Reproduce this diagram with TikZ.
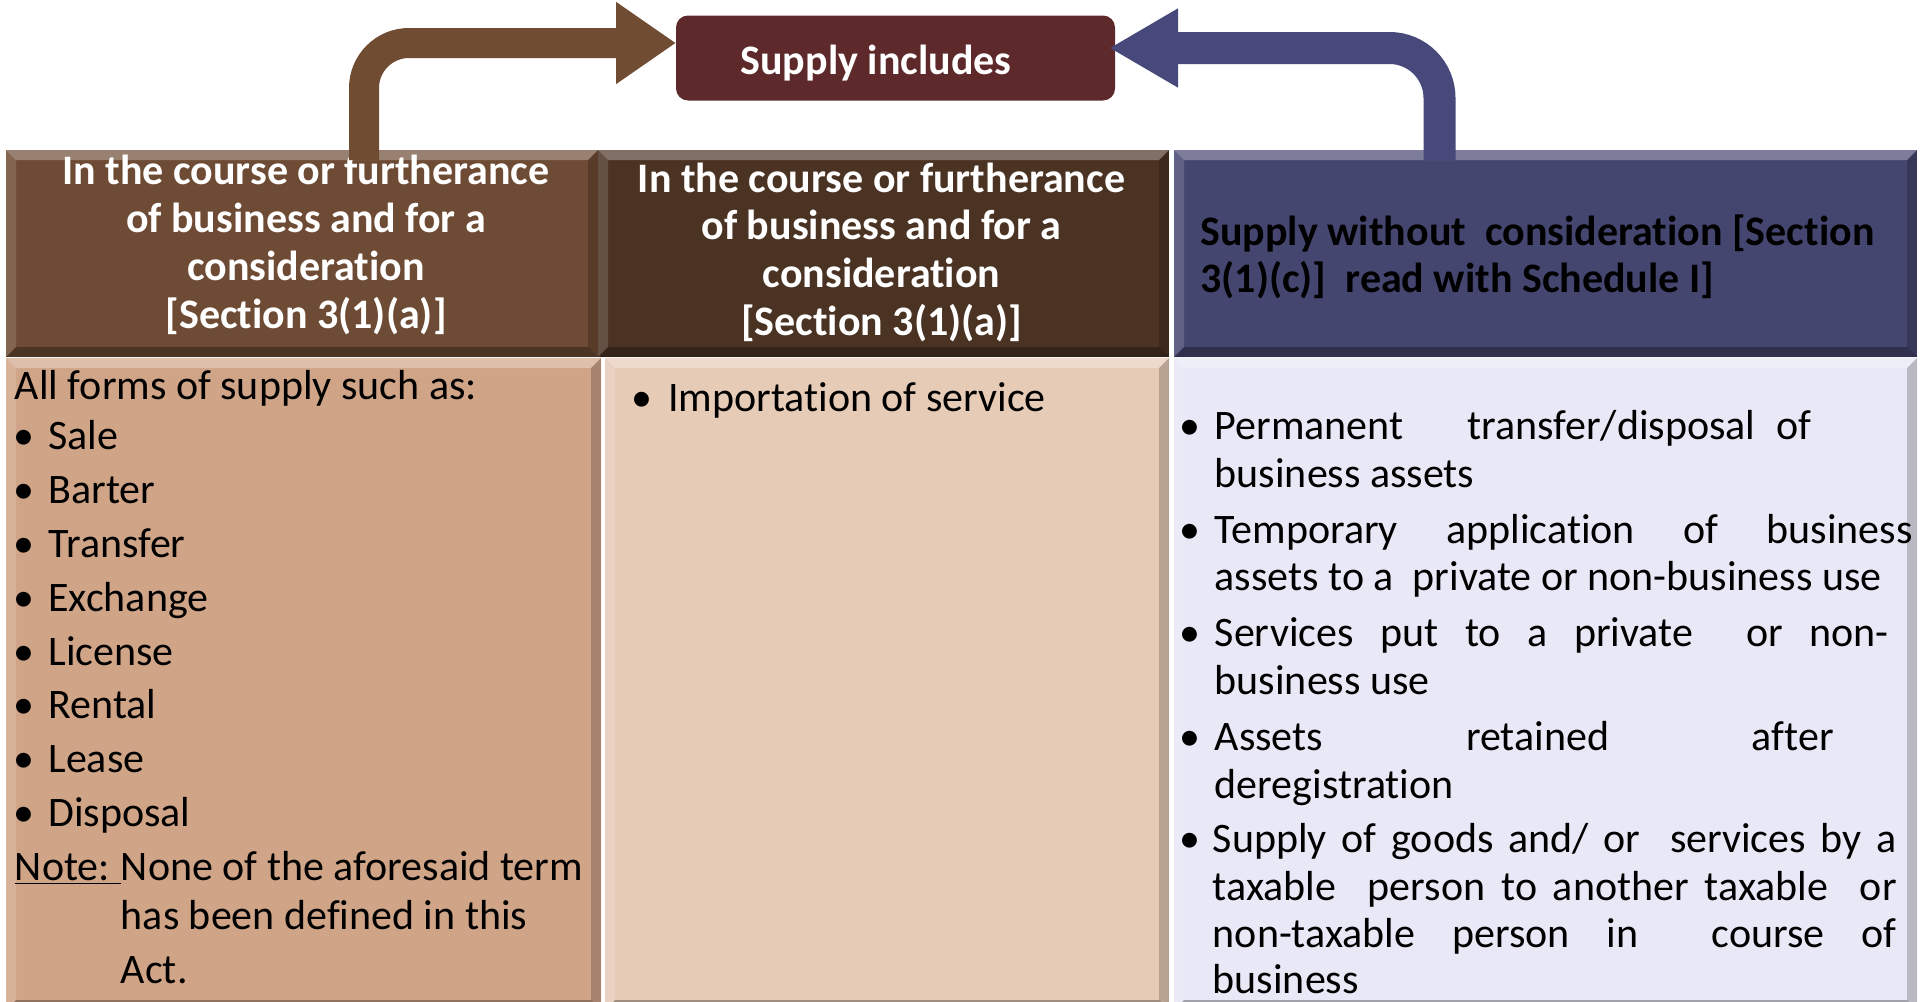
\documentclass[tikz,border=0pt]{standalone}
\usepackage{fontspec}
\setmainfont{Carlito}[Ligatures={NoCommon,NoContextual}]
\usetikzlibrary{arrows.meta,calc}

\newlength{\du}
\setlength{\du}{0.5pt}

\definecolor{supplyred}{RGB}{94,41,42}
\definecolor{hdrbrown}{RGB}{110,75,52}
\definecolor{hdrdark}{RGB}{75,51,36}
\definecolor{hdrnavy}{RGB}{69,70,112}
\definecolor{bodytan}{RGB}{208,164,135}
\definecolor{bodysand}{RGB}{230,203,183}
\definecolor{bodylilac}{RGB}{232,232,246}
\definecolor{arrowbrown}{RGB}{112,76,50}
\definecolor{arrowblue}{RGB}{70,73,122}

\tikzset{
  box/.style={rectangle, inner sep=0pt, outer sep=0pt, anchor=north west},
  hdrtxt/.style={anchor=base, inner sep=0pt, text=white, font=\fontsize{21}{24}\selectfont\bfseries},
  bodytxt/.style={anchor=base west, inner sep=0pt, font=\fontsize{21}{27}\selectfont},
  brownarrow/.style={draw=arrowbrown, line width=30\du, rounded corners=45\du, -{Triangle[length=30pt,width=39pt]}},
  bluearrow/.style={draw=arrowblue, line width=32\du, rounded corners=50\du, -{Triangle[length=34.5pt,width=37pt]}},
}

\newcommand{\bulit}[1]{\makebox[0pt]{\textbullet}\hspace*{#1}}
\newcommand{\bevel}[1]{%
\fill[white,opacity=0.30] (#1.north west)--(#1.north east)--($(#1.north east)+(-10\du,10\du)$)--($(#1.north west)+(10\du,10\du)$)--cycle;
\fill[white,opacity=0.15] (#1.north west)--($(#1.north west)+(10\du,10\du)$)--($(#1.south west)+(10\du,-10\du)$)--(#1.south west)--cycle;
\fill[black,opacity=0.30] (#1.south west)--($(#1.south west)+(10\du,-10\du)$)--($(#1.south east)+(-10\du,-10\du)$)--(#1.south east)--cycle;
\fill[black,opacity=0.20] (#1.north east)--(#1.south east)--($(#1.south east)+(-10\du,-10\du)$)--($(#1.north east)+(-10\du,10\du)$)--cycle;}

\begin{document}
\begin{tikzpicture}
\pgftransformxscale{1.000000}
\pgftransformyscale{-1.000000}
\useasboundingbox (0.000000\du,0.000000\du) rectangle (1921.000000\du,1001.000000\du);
% columns, body part
\node[box, fill=bodytan, minimum width=595\du, minimum height=652\du] (bodyA) at (6.000000\du,358.000000\du){};
\node[box, fill=bodysand, minimum width=564\du, minimum height=652\du] (bodyB) at (605.000000\du,358.000000\du){};
\node[box, fill=bodylilac, minimum width=743\du, minimum height=652\du] (bodyC) at (1174.000000\du,358.000000\du){};
% columns, head part
\node[box, fill=hdrbrown, minimum width=592\du, minimum height=207\du] (hdrA) at (6.000000\du,150.000000\du){};
\node[box, fill=hdrdark, minimum width=571\du, minimum height=207\du] (hdrB) at (598.000000\du,150.000000\du){};
\node[box, fill=hdrnavy, minimum width=743\du, minimum height=207\du] (hdrC) at (1174.000000\du,150.000000\du){};
\bevel{bodyA}
\bevel{bodyB}
\bevel{bodyC}
\bevel{hdrA}
\bevel{hdrB}
\bevel{hdrC}
% head texts
\node[hdrtxt] (hdrA1) at (306.000000\du,184.000000\du){In the course or furtherance};
\node[hdrtxt] (hdrA2) at (306.000000\du,232.000000\du){of business and for a};
\node[hdrtxt] (hdrA3) at (306.000000\du,280.000000\du){consideration};
\node[hdrtxt] (hdrA4) at (306.000000\du,328.000000\du){[Section 3(1)(a)]};
\node[hdrtxt] (hdrB1) at (881.500000\du,192.000000\du){In the course or furtherance};
\node[hdrtxt] (hdrB2) at (881.500000\du,239.500000\du){of business and for a};
\node[hdrtxt] (hdrB3) at (881.500000\du,287.000000\du){consideration};
\node[hdrtxt] (hdrB4) at (881.500000\du,335.000000\du){[Section 3(1)(a)]};
\node[hdrtxt, anchor=base west, text=black] (hdrC1) at (1200.000000\du,245.000000\du){Supply without\ \ consideration [Section};
\node[hdrtxt, anchor=base west, text=black] (hdrC2) at (1200.000000\du,292.000000\du){3(1)(c)]\ \ read with Schedule I]};
% first column
\node[bodytxt] (bodyA0) at (14.500000\du,399.000000\du){All forms of supply such as:};
\node[bodytxt] (bodyA1) at (24.000000\du,449.600000\du){\bulit{24\du}Sale};
\node[bodytxt] (bodyA2) at (24.000000\du,503.600000\du){\bulit{24\du}Barter};
\node[bodytxt] (bodyA3) at (24.000000\du,557.600000\du){\bulit{24\du}Transfer};
\node[bodytxt] (bodyA4) at (24.000000\du,611.500000\du){\bulit{24\du}Exchange};
\node[bodytxt] (bodyA5) at (24.000000\du,665.500000\du){\bulit{24\du}License};
\node[bodytxt] (bodyA6) at (24.000000\du,718.600000\du){\bulit{24\du}Rental};
\node[bodytxt] (bodyA7) at (24.000000\du,772.600000\du){\bulit{24\du}Lease};
\node[bodytxt] (bodyA8) at (24.000000\du,826.000000\du){\bulit{24\du}Disposal};
\node[bodytxt] (noteA1) at (14.500000\du,880.500000\du){\underline{\makebox[106\du][l]{Note:}}None of the aforesaid term};
\node[bodytxt] (noteA2) at (120.500000\du,929.000000\du){has been defined in this};
\node[bodytxt] (noteA3) at (120.500000\du,983.000000\du){Act.};
% second column
\node[bodytxt] (bodyB1) at (642.000000\du,411.000000\du){\bulit{25.7\du}Importation of service};
% third column
\node[bodytxt] (bodyC1) at (1189.500000\du,439.200000\du){\bulit{24.9\du}\makebox[597\du][s]{Permanent\ \ \ transfer/disposal\ of}};
\node[bodytxt] (bodyC2) at (1214.400000\du,487.000000\du){business assets};
\node[bodytxt] (bodyC3) at (1189.500000\du,543.000000\du){\bulit{24.9\du}\makebox[698\du][s]{Temporary application of business}};
\node[bodytxt] (bodyC4) at (1214.400000\du,590.800000\du){assets to a\ \ private or non-business use};
\node[bodytxt] (bodyC5) at (1189.500000\du,646.800000\du){\bulit{24.9\du}\makebox[674\du][s]{Services put to a private\ \ or non-}};
\node[bodytxt] (bodyC6) at (1214.400000\du,694.500000\du){business use};
\node[bodytxt] (bodyC7) at (1189.500000\du,750.600000\du){\bulit{24.9\du}\makebox[619\du][s]{Assets retained after}};
\node[bodytxt] (bodyC8) at (1214.400000\du,798.300000\du){deregistration};
\node[bodytxt] (bodyC9) at (1189.500000\du,852.300000\du){\bulit{22.9\du}\makebox[684\du][s]{Supply of goods and/ or\ \ services by a}};
\node[bodytxt] (bodyC10) at (1212.400000\du,900.000000\du){\makebox[684\du][s]{taxable\ \ person to another taxable\ \ or}};
\node[bodytxt] (bodyC11) at (1212.400000\du,947.800000\du){\makebox[684\du][s]{non-taxable person in\ \ course of}};
\node[bodytxt] (bodyC12) at (1212.400000\du,993.500000\du){business};
% top box
\node[box, fill=supplyred, rounded corners=12\du, minimum width=439\du, minimum height=85\du] (supply) at (676.000000\du,15.500000\du){};
\node[hdrtxt] (supplytxt) at (876.000000\du,74.000000\du){Supply includes};
% bent arrows
\draw[brownarrow] ($(hdrA.north)+(62\du,10\du)$) |- ($(supply.west)+(0\du,-15\du)$);
\draw[bluearrow] ($(hdrC.north)+(-106\du,10\du)$) |- ($(supply.east)+(-6\du,-10\du)$);
\end{tikzpicture}
\end{document}
